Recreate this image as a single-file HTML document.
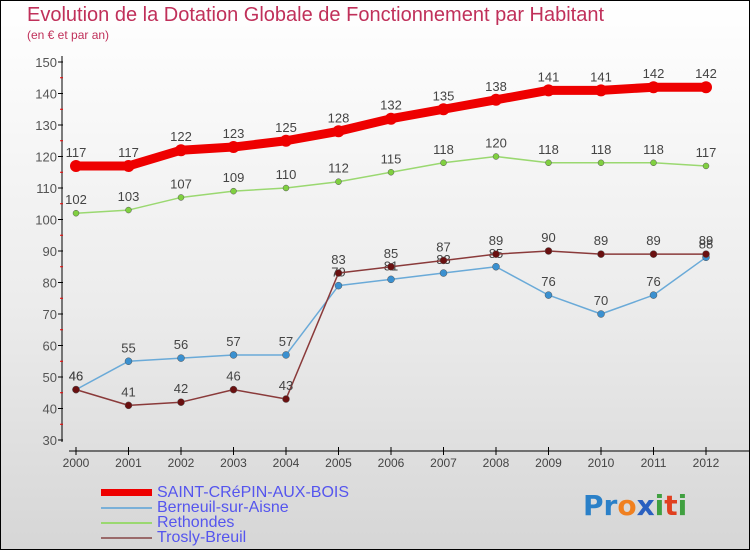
<!DOCTYPE html>
<html><head><meta charset="utf-8"><style>
body{margin:0}
#c{position:relative;width:748px;height:548px;border:1px solid #000;background:linear-gradient(#fff 0%,#ececec 55%,#d6d6d6 100%);font-family:"Liberation Sans",sans-serif;overflow:hidden}
</style></head><body>
<div id="c">
<div style="position:absolute;left:26px;top:3px;font-size:20px;color:#c0305a">Evolution de la Dotation Globale de Fonctionnement par Habitant</div>
<div style="position:absolute;left:26px;top:27px;font-size:12px;color:#c0305a">(en € et par an)</div>
<svg id="s" width="748" height="548" style="position:absolute;left:0;top:0"></svg>
<div style="position:absolute;left:100px;top:484px;font-size:16px;color:#5555ee;line-height:15px">
<div><span style="display:inline-block;width:51px;height:7px;background:#e00;vertical-align:middle;margin-right:5px"></span>SAINT-CRéPIN-AUX-BOIS</div>
<div><span style="display:inline-block;width:51px;height:2px;background:#7ab0d8;vertical-align:middle;margin-right:5px"></span>Berneuil-sur-Aisne</div>
<div><span style="display:inline-block;width:51px;height:2px;background:#9ad870;vertical-align:middle;margin-right:5px"></span>Rethondes</div>
<div><span style="display:inline-block;width:51px;height:2px;background:#9a6a6a;vertical-align:middle;margin-right:5px"></span>Trosly-Breuil</div>
</div>
<div style="position:absolute;left:582px;top:488px;font-size:28px;font-family:'DejaVu Sans',sans-serif;font-weight:bold"><span style="color:#2a80c8">Pr</span><span style="color:#f08020">o</span><span style="color:#2a60c0">x</span><span style="color:#40a040">i</span><span style="color:#e04020">t</span><span style="color:#40a040">i</span></div>
</div>
<script>
const years=["2000","2001","2002","2003","2004","2005","2006","2007","2008","2009","2010","2011","2012"];
const yTicks=[30,40,50,60,70,80,90,100,110,120,130,140,150];
const saint=[117,117,122,123,125,128,132,135,138,141,141,142,142];
const berneuil=[46,55,56,57,57,79,81,83,85,76,70,76,88];
const rethondes=[102,103,107,109,110,112,115,118,120,118,118,118,117];
const trosly=[46,41,42,46,43,83,85,87,89,90,89,89,89];
const s=document.getElementById('s'),NS="http://www.w3.org/2000/svg";
const X=i=>75+52.5*i, Y=v=>61+(150-v)*3.15;
function el(t,a,n){const e=document.createElementNS(NS,t);for(const k in a)e.setAttribute(k,a[k]);


s.appendChild(e);return e;}
el('line',{x1:61,y1:55,x2:61,y2:441,stroke:'#000'},'y-axis');
el('line',{x1:68,y1:450,x2:748,y2:450,stroke:'#000'},'x-axis');
yTicks.forEach(v=>{el('line',{x1:57,x2:62,y1:Y(v),y2:Y(v),stroke:'#000'},'y-tick');
const t=el('text',{x:56,y:Y(v)+5,'text-anchor':'end','font-size':13,fill:'#555','font-family':'Liberation Sans'},'y-tick-label');t.textContent=v;
if(v<150)el('line',{x1:59,x2:62,y1:Y(v+5),y2:Y(v+5),stroke:'#e00'},'y-minor-tick');});
years.forEach((y,i)=>{el('line',{x1:X(i),x2:X(i),y1:446,y2:454,stroke:'#000'},'x-tick');
const t=el('text',{x:X(i),y:466,'text-anchor':'middle','font-size':12,fill:'#444','font-family':'Liberation Sans'},'x-tick-label');t.textContent=y;});
function series(d,col,w,r,dot,name){
el('polyline',{points:d.map((v,i)=>X(i)+','+Y(v)).join(' '),fill:'none',stroke:col,'stroke-width':w,'stroke-linejoin':'round'},name+'-line');
d.forEach((v,i)=>{el('circle',{cx:X(i),cy:Y(v),r:r,fill:dot,stroke:w>3?'none':'#555','stroke-width':0.5},name+'-point');
const t=el('text',{x:X(i),y:Y(v)-9,'text-anchor':'middle','font-size':13,fill:'#444','font-family':'Liberation Sans'},name+'-value');t.textContent=v;});}
series(rethondes,'#9ad870',1.5,3,'#80d040','rethondes');
series(berneuil,'#6aaad8',1.5,3.5,'#3a90d0','berneuil');
series(trosly,'#8a3a3a',1.5,3.5,'#6a1010','trosly');
series(saint,'#e00',9,6,'#e00','saint');
</script>
</body></html>
